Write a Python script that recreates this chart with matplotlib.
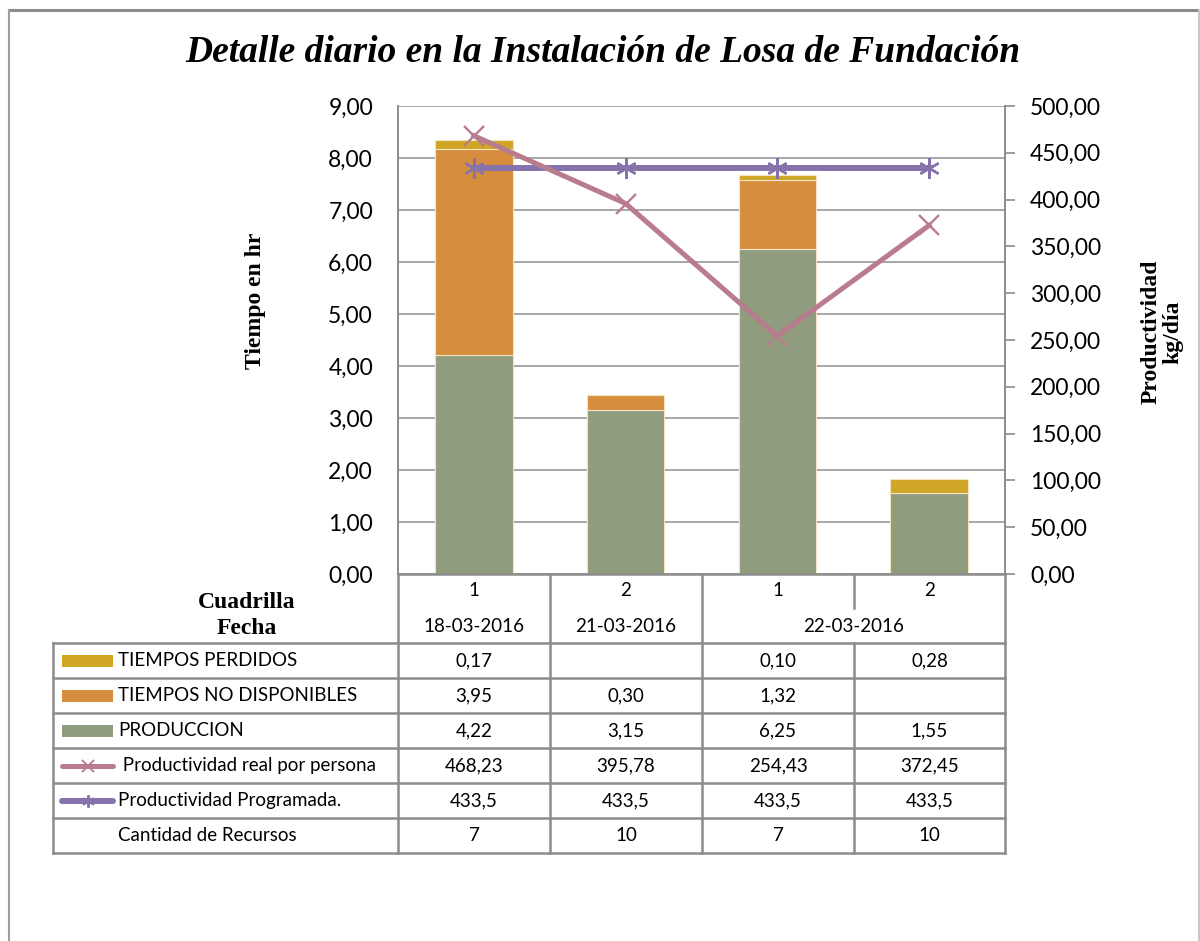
import matplotlib
matplotlib.use('Agg')
import matplotlib.pyplot as plt
from matplotlib.lines import Line2D
from matplotlib.patches import Rectangle
from matplotlib.ticker import FuncFormatter, MultipleLocator

# ---------------- data ----------------
cuadrillas = ['1', '2', '1', '2']
fechas = ['18-03-2016', '21-03-2016', '22-03-2016']
fecha_spans = [(0, 1), (1, 2), (2, 4)]
produccion = [4.22, 3.15, 6.25, 1.55]
no_disponibles = [3.95, 0.30, 1.32, 0.0]
perdidos = [0.17, 0.0, 0.10, 0.28]
prod_real = [468.23, 395.78, 254.43, 372.45]
prod_prog = [433.5, 433.5, 433.5, 433.5]
recursos = [7, 10, 7, 10]

labels_series = ['TIEMPOS PERDIDOS', 'TIEMPOS NO DISPONIBLES', 'PRODUCCION',
                 ' Productividad real por persona', 'Productividad Programada.',
                 'Cantidad de Recursos']
title = 'Detalle diario en la Instalación de Losa de Fundación'

# ---------------- styles ----------------
W, H = 1200, 941
c_perd = '#CFA626'
c_nodisp = '#D68E3E'
c_prod = '#8F9C7D'
c_real = '#B97B8E'
c_prog = '#8673AC'
grid_c = '#A6A6A6'
line_c = '#8C8C8C'
sans = ['Lato', 'DejaVu Sans']
serif = ['Liberation Serif', 'DejaVu Serif']
plt.rcParams['font.family'] = sans

def fx(x):
    return x / W

def fy(y):
    return 1 - y / H

fig = plt.figure(figsize=(W / 100, H / 100), dpi=100)

L, R, T, B = 398, 1005, 106, 574
ax = fig.add_axes([fx(L), fy(B), (R - L) / W, (B - T) / H])
x = list(range(len(produccion)))
bw = 0.51
edge = '#F3E4C2'
ax.bar(x, produccion, bw, color=c_prod, edgecolor=edge, linewidth=0.8, zorder=2)
bottom2 = [a for a in produccion]
ax.bar(x, no_disponibles, bw, bottom=bottom2, color=c_nodisp, edgecolor=edge, linewidth=0.8, zorder=2)
bottom3 = [a + b for a, b in zip(produccion, no_disponibles)]
ax.bar(x, perdidos, bw, bottom=bottom3, color=c_perd, edgecolor=edge, linewidth=0.8, zorder=2)

ax.set_xlim(-0.5, len(x) - 0.5)
ax.set_ylim(0, 9)
ax.yaxis.set_major_locator(MultipleLocator(1))
ax.yaxis.set_major_formatter(FuncFormatter(lambda v, p: f'{v:.2f}'.replace('.', ',')))
ax.grid(axis='y', color=grid_c, linewidth=1.4, zorder=0)
ax.set_axisbelow(True)
ax.set_xticks([])
ax.tick_params(axis='y', length=0, pad=18, labelsize=16.5, colors='black')
for s in ['top', 'right']:
    ax.spines[s].set_visible(False)
ax.spines['left'].set_color(line_c)
ax.spines['left'].set_linewidth(1.4)
ax.spines['bottom'].set_color(line_c)
ax.spines['bottom'].set_linewidth(1.8)

ax2 = ax.twinx()
ax2.set_ylim(0, 500)
ax2.yaxis.set_major_locator(MultipleLocator(50))
ax2.yaxis.set_major_formatter(FuncFormatter(lambda v, p: f'{v:.2f}'.replace('.', ',')))
ax2.tick_params(axis='y', direction='out', length=7, width=1.2, color=line_c, pad=11, labelsize=16.5)
for s in ['top', 'left', 'bottom']:
    ax2.spines[s].set_visible(False)
ax2.spines['right'].set_color(line_c)
ax2.spines['right'].set_linewidth(1.4)
ax2.plot(x, prod_prog, color=c_prog, linewidth=4.3, marker=(6, 2, 0), markersize=15,
         markeredgewidth=1.7, zorder=3)
ax2.plot(x, prod_real, color=c_real, linewidth=3.6, marker='x', markersize=14,
         markeredgewidth=1.7, zorder=4)

# ---------------- texts ----------------
fig.text(fx(603), fy(52), title, ha='center', va='center', family=serif,
         fontsize=27, fontweight='bold', fontstyle='italic')
fig.text(fx(255), fy(301), 'Tiempo en hr', rotation=90, ha='center', va='center',
         family=serif, fontsize=17, fontweight='bold')
fig.text(fx(1162), fy(332), 'Productividad\nkg/día', rotation=90, ha='center', va='center',
         family=serif, fontsize=17, fontweight='bold', linespacing=1.0)
fig.text(fx(247), fy(603), 'Cuadrilla', ha='center', va='center', family=serif,
         fontsize=17, fontweight='bold')
fig.text(fx(247), fy(629), 'Fecha', ha='center', va='center', family=serif,
         fontsize=17, fontweight='bold')

# ---------------- table ----------------
def hline(x0, x1, y, lw=1.8, c=line_c):
    fig.add_artist(Line2D([fx(x0), fx(x1)], [fy(y), fy(y)], color=c, linewidth=lw))

def vline(x0, y0, y1, lw=1.8, c=line_c):
    fig.add_artist(Line2D([fx(x0), fx(x0)], [fy(y0), fy(y1)], color=c, linewidth=lw))

cols = [398, 550, 702, 854, 1005]
rows = [643, 678, 713, 748, 783, 818, 853]
TL = 53
for y in rows:
    hline(TL, R, y)
vline(TL, rows[0], rows[-1])
for i, cx in enumerate(cols):
    if cx == 854:
        vline(cx, B, 608)
        vline(cx, rows[0], rows[-1])
    else:
        vline(cx, B, rows[-1])

centers = [(cols[i] + cols[i + 1]) / 2 for i in range(4)]
fs_t = 13.5
for i, c in enumerate(cuadrillas):
    fig.text(fx(centers[i]), fy(591), c, ha='center', va='center', fontsize=fs_t)
for f, (a, b) in zip(fechas, fecha_spans):
    xc = (cols[a] + cols[b]) / 2
    fig.text(fx(xc), fy(627), f, ha='center', va='center', fontsize=fs_t)

def fmt2(v):
    return '' if v == 0 else f'{v:.2f}'.replace('.', ',')

def fmt1(v):
    return f'{v:.1f}'.replace('.', ',')

row_vals = [
    [fmt2(v) for v in perdidos],
    [fmt2(v) for v in no_disponibles],
    [fmt2(v) for v in produccion],
    [fmt2(v) for v in prod_real],
    [fmt1(v) for v in prod_prog],
    [str(v) for v in recursos],
]
for r, vals in enumerate(row_vals):
    yc = (rows[r] + rows[r + 1]) / 2
    for i, s in enumerate(vals):
        fig.text(fx(centers[i]), fy(yc), s, ha='center', va='center', fontsize=fs_t)

# legend keys
for r, (lab, col) in enumerate(zip(labels_series, [c_perd, c_nodisp, c_prod, c_real, c_prog, None])):
    yc = (rows[r] + rows[r + 1]) / 2
    if r < 3:
        fig.add_artist(Rectangle((fx(62), fy(yc + 6)), 51 / W, 12 / H, facecolor=col,
                                 edgecolor='none'))
    elif r == 3:
        fig.add_artist(Line2D([fx(62), fx(113)], [fy(yc), fy(yc)], color=col, linewidth=3.6,
                              solid_capstyle='round'))
        fig.add_artist(Line2D([fx(88)], [fy(yc)], color=col, marker='x', markersize=9,
                              markeredgewidth=1.4))
    elif r == 4:
        fig.add_artist(Line2D([fx(62), fx(113)], [fy(yc), fy(yc)], color=col, linewidth=4.3,
                              solid_capstyle='round'))
        fig.add_artist(Line2D([fx(88)], [fy(yc)], color=col, marker=(6, 2, 0), markersize=9,
                              markeredgewidth=1.4))
    fig.text(fx(118), fy(yc), lab, ha='left', va='center', fontsize=fs_t)

# ---------------- outer frame ----------------
hline(9, 1199, 10, lw=2.2, c='#8C8C8C')
vline(9, 10, 941, lw=1.5, c='#A0A0A0')
vline(1199, 10, 941, lw=1.5, c='#C8C8C8')

fig.savefig('out.png', dpi=100)
